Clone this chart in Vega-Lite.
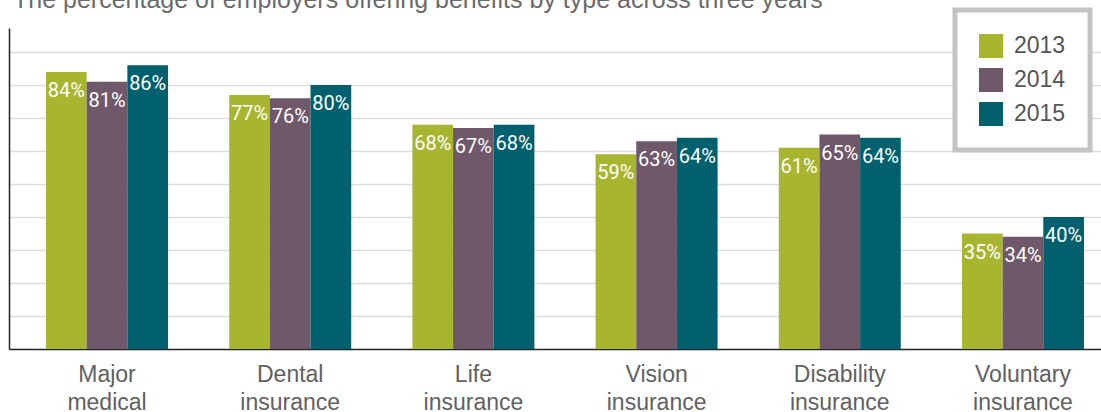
{
  "$schema": "https://vega.github.io/schema/vega-lite/v6.json",
  "autosize": {"type": "none"},
  "width": 1092,
  "height": 321,
  "padding": {"left": 9, "top": 28, "right": 0, "bottom": 63},
  "background": "white",
  "title": {
    "text": "The percentage of employers offering benefits by type across three years",
    "anchor": "start",
    "frame": "group",
    "orient": "top",
    "font": "Liberation Sans",
    "fontSize": 25,
    "fontWeight": "normal",
    "color": "#6b6b6b",
    "baseline": "alphabetic",
    "offset": -25,
    "dx": 4
  },
  "config": {
    "view": {"stroke": null},
    "axis": {"labelFont": "Liberation Sans", "titleFont": "Liberation Sans"}
  },
  "data": {
    "values": [
      {"category": "Major medical", "year": "2013", "value": 84},
      {"category": "Major medical", "year": "2014", "value": 81},
      {"category": "Major medical", "year": "2015", "value": 86},
      {"category": "Dental insurance", "year": "2013", "value": 77},
      {"category": "Dental insurance", "year": "2014", "value": 76},
      {"category": "Dental insurance", "year": "2015", "value": 80},
      {"category": "Life insurance", "year": "2013", "value": 68},
      {"category": "Life insurance", "year": "2014", "value": 67},
      {"category": "Life insurance", "year": "2015", "value": 68},
      {"category": "Vision insurance", "year": "2013", "value": 59},
      {"category": "Vision insurance", "year": "2014", "value": 63},
      {"category": "Vision insurance", "year": "2015", "value": 64},
      {"category": "Disability insurance", "year": "2013", "value": 61},
      {"category": "Disability insurance", "year": "2014", "value": 65},
      {"category": "Disability insurance", "year": "2015", "value": 64},
      {"category": "Voluntary insurance", "year": "2013", "value": 35},
      {"category": "Voluntary insurance", "year": "2014", "value": 34},
      {"category": "Voluntary insurance", "year": "2015", "value": 40}
    ]
  },
  "encoding": {
    "x": {
      "field": "category",
      "type": "nominal",
      "sort": null,
      "scale": {"paddingInner": 0.334, "paddingOuter": 0.1475, "align": 0.685},
      "axis": {
        "title": null,
        "labelAngle": 0,
        "labelExpr": "split(datum.label, ' ')",
        "labelFontSize": 23,
        "labelColor": "#616161",
        "labelLineHeight": 28,
        "labelPadding": 14,
        "ticks": false,
        "tickSize": 0,
        "domainColor": "#222222",
        "domainWidth": 1.5,
        "grid": false
      }
    },
    "y": {
      "field": "value",
      "type": "quantitative",
      "scale": {"domain": [0, 97.3], "nice": false, "zero": true},
      "axis": {
        "title": null,
        "labels": false,
        "ticks": false,
        "tickSize": 0,
        "values": [10, 20, 30, 40, 50, 60, 70, 80, 90],
        "domainColor": "#222222",
        "domainWidth": 1.5,
        "gridColor": "#dddddd",
        "gridWidth": 1.5
      }
    },
    "xOffset": {"field": "year", "type": "nominal", "scale": {"paddingInner": 0, "paddingOuter": 0}}
  },
  "layer": [
    {
      "mark": {"type": "bar"},
      "encoding": {
        "color": {
          "field": "year",
          "type": "nominal",
          "scale": {"domain": ["2013", "2014", "2015"], "range": ["#a8b52e", "#6f586a", "#00606e"]},
          "legend": {
            "title": null,
            "orient": "none",
            "legendX": 946,
            "legendY": -18,
            "direction": "vertical",
            "symbolType": "square",
            "symbolSize": 576,
            "symbolStrokeWidth": 0,
            "symbolOpacity": 1,
            "labelFont": "Liberation Sans",
            "labelFontSize": 23,
            "labelColor": "#555555",
            "labelOffset": 11,
            "rowPadding": 10,
            "padding": 24,
            "encode": {
              "legend": {
                "update": {
                  "stroke": {"value": "#c4c4c4"},
                  "strokeWidth": {"value": 5},
                  "fill": {"value": "white"}
                }
              }
            }
          }
        }
      }
    },
    {
      "mark": {
        "type": "text",
        "baseline": "alphabetic",
        "align": "center",
        "dy": 25,
        "font": "Roboto",
        "fontSize": 20,
        "color": "white",
        "text": {"expr": "datum.value + '%'"}
      },
      "encoding": {
        "detail": {"field": "year"}
      }
    }
  ]
}
